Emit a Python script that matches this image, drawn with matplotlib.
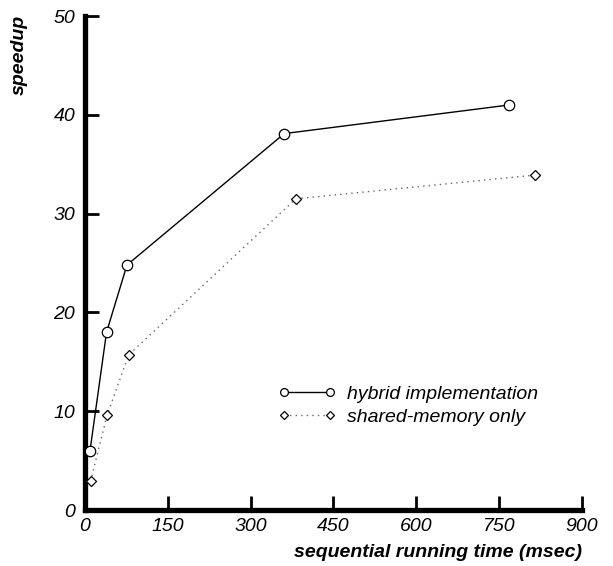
import matplotlib
matplotlib.use("Agg")
import matplotlib.pyplot as plt

# --- Data ---
hybrid_x = [9, 39, 76, 361, 769]
hybrid_y = [6.0, 18.0, 24.8, 38.1, 41.0]
shared_x = [10, 40, 79, 382, 815]
shared_y = [2.9, 9.6, 15.7, 31.5, 33.9]

x_ticks = [0, 150, 300, 450, 600, 750, 900]
y_ticks = [0, 10, 20, 30, 40, 50]

plt.rcParams['font.family'] = ['Liberation Sans', 'DejaVu Sans']

fig = plt.figure(figsize=(6.13, 5.66), dpi=100)
ax = fig.add_axes([0.1387, 0.0989, 0.8103, 0.8728])

ax.plot(hybrid_x, hybrid_y, color="black", linewidth=1.0, marker="o",
        markersize=7.5, markerfacecolor="white", markeredgecolor="black",
        markeredgewidth=0.9, label="hybrid implementation", zorder=3)
ax.plot(shared_x, shared_y, color="#666666", linewidth=1.0, linestyle=(0, (1, 3)),
        marker="D", markersize=5.5, markerfacecolor="white", markeredgecolor="black",
        markeredgewidth=0.9, label="shared-memory only", zorder=3)

ax.set_xlim(0, 900)
ax.set_ylim(0, 50)
ax.set_xticks(x_ticks)
ax.set_yticks(y_ticks)

# Thick L-shaped axes, no top/right spines
for side in ("top", "right"):
    ax.spines[side].set_visible(False)
for side in ("left", "bottom"):
    ax.spines[side].set_linewidth(3.8)
    ax.spines[side].set_capstyle("projecting")

ax.tick_params(axis="both", direction="in", length=10, width=2, labelsize=14)
ax.tick_params(axis="y", pad=7)
ax.tick_params(axis="x", pad=6)
for lbl in ax.get_xticklabels() + ax.get_yticklabels():
    lbl.set_fontstyle("italic")

ax.set_ylabel("speedup", fontsize=14, fontweight="bold", fontstyle="italic", loc="top")
ax.yaxis.set_label_coords(-0.115, 1.003)
ax.set_xlabel("sequential running time (msec)", fontsize=14, fontweight="bold",
              fontstyle="italic", loc="right")
ax.xaxis.set_label_coords(1.0, -0.068)

leg = ax.legend(loc="upper left", bbox_to_anchor=(0.353, 0.288), frameon=False,
                numpoints=2, handlelength=3.0, handletextpad=0.55, labelspacing=0.3,
                markerscale=0.75, prop={"style": "italic", "size": 14})

fig.savefig("out.png", dpi=100)
